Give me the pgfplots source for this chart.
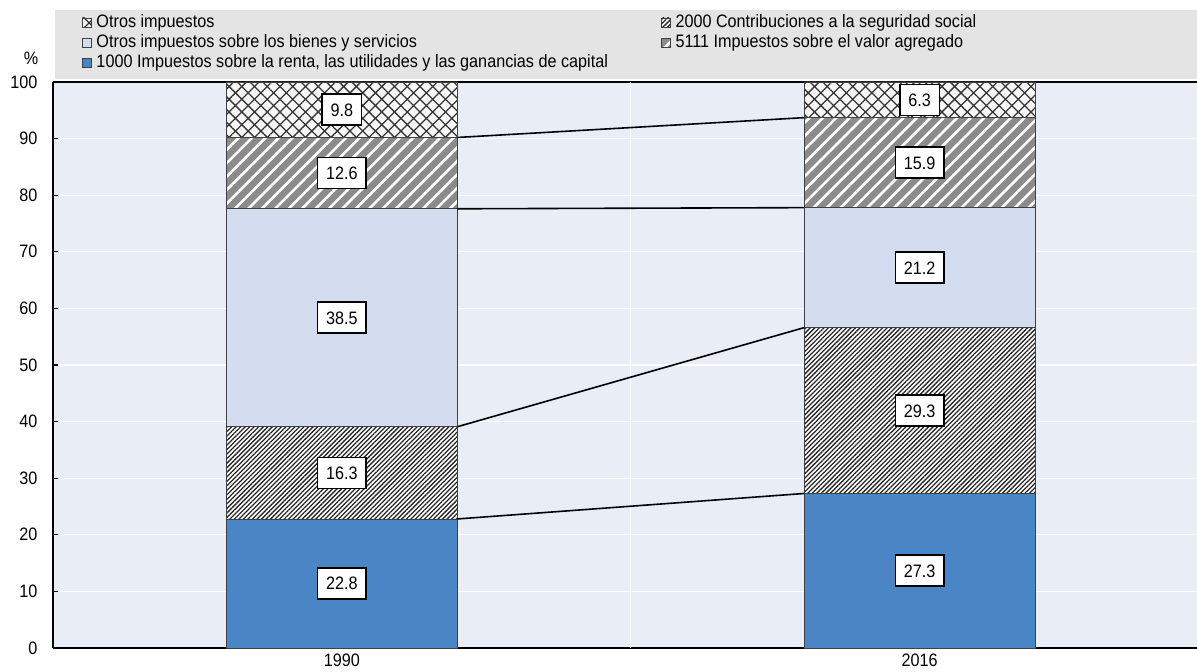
\documentclass[border=0pt]{standalone}
\usepackage{fontspec}
\setmainfont{Liberation Sans}[FakeStretch=0.9]
\usepackage{pgfplots}
\pgfplotsset{compat=1.18}
\usetikzlibrary{patterns.meta}
\definecolor{bgc}{RGB}{233,237,246}
\definecolor{blu}{RGB}{74,134,198}
\definecolor{lbl}{RGB}{212,221,239}
\definecolor{gry}{RGB}{139,139,139}
\definecolor{leg}{RGB}{228,228,228}
\tikzset{
 s1000/.style={fill=blu, draw=black!75, line width=0.8pt},
 s2000/.style={fill=white, draw=black!75, line width=0.8pt, postaction={pattern={Lines[angle=45,distance=3.2pt,line width=1.3pt]}, pattern color=black!85}},
 sbien/.style={fill=lbl, draw=black!75, line width=0.8pt},
 s5111/.style={fill=gry, draw=black!75, line width=0.8pt, postaction={pattern={Lines[angle=45,distance=9.5pt,line width=2.6pt]}, pattern color=white}},
 sotro/.style={fill=white!97!black, draw=black!75, line width=0.8pt, postaction={pattern={Lines[angle=45,distance=9pt,line width=1.3pt]}, pattern color=black!80}, postaction={pattern={Lines[angle=-45,distance=9pt,line width=1.3pt]}, pattern color=black!80}},
}
\begin{document}
\begin{tikzpicture}[font=\fontsize{18}{22}\selectfont]
\begin{axis}[
 at={(0,0)}, anchor=south west,
 width=1144pt, height=566pt, scale only axis,
 xmin=-0.5, xmax=1.48, ymin=0, ymax=100,
 ybar stacked, bar width=0.4,
 clip=false,
 axis background/.style={fill=bgc},
 axis x line*=bottom, axis y line*=left,
 axis line style={-, line width=1.6pt, black},
 ytick={0,10,...,100},
 ymajorgrids, grid style={white, line width=1.2pt},
 xtick={0,1}, xticklabels={1990,2016},
 xtick style={draw=none},
 xticklabel style={yshift=-2pt},
 tick align=inside,
 ytick style={black, line width=1.2pt}, major tick length=5pt,
 yticklabel style={xshift=-12pt},
 /pgf/number format/assume math mode=true,
 legend columns=2,
 legend cell align=left,
 legend style={at={(rel axis cs:0,1)}, anchor=north west, xshift=29pt, yshift=67pt, draw=none, fill=none, inner sep=0pt, outer sep=0pt, row sep=3pt,
   nodes={inner sep=0pt, text height=13pt, text depth=4pt, anchor=west},
   /tikz/every odd column/.append style={column sep=5pt},
   /tikz/every even column/.append style={column sep=53pt}},
]
\fill[leg] (rel axis cs:0,1) ++(2pt,3pt) rectangle ++(1142pt,69pt);
\draw[white, line width=1.2pt] (axis cs:0.5,0) -- (axis cs:0.5,100);
\draw[black, line width=1.2pt] (axis cs:0.5,0) -- ++(0pt,5pt);
\addplot[s1000, forget plot] coordinates {(0,22.8) (1,27.3)};
\addplot[s2000, forget plot] coordinates {(0,16.3) (1,29.3)};
\addplot[sbien, forget plot] coordinates {(0,38.5) (1,21.2)};
\addplot[s5111, forget plot] coordinates {(0,12.6) (1,15.9)};
\addplot[sotro, forget plot] coordinates {(0,9.8) (1,6.3)};
\draw[black, line width=1.6pt] (rel axis cs:0,1) -- (rel axis cs:1,1);
\node[xshift=-22pt, yshift=24pt] at (rel axis cs:0,1) {\%};
\addlegendimage{legend image code/.code={\draw[sotro, line width=0.5pt] (0pt,-3.5pt) rectangle (9pt,5.5pt);}}
\addlegendentry{Otros impuestos}
\addlegendimage{legend image code/.code={\draw[s2000, line width=0.5pt] (0pt,-3.5pt) rectangle (9pt,5.5pt);}}
\addlegendentry{2000 Contribuciones a la seguridad social}
\addlegendimage{legend image code/.code={\draw[sbien, line width=0.5pt] (0pt,-3.5pt) rectangle (9pt,5.5pt);}}
\addlegendentry{Otros impuestos sobre los bienes y servicios}
\addlegendimage{legend image code/.code={\draw[s5111, line width=0.5pt] (0pt,-3.5pt) rectangle (9pt,5.5pt);}}
\addlegendentry{5111 Impuestos sobre el valor agregado}
\addlegendimage{legend image code/.code={\draw[s1000, line width=0.5pt] (0pt,-3.5pt) rectangle (9pt,5.5pt);}}
\addlegendentry{1000 Impuestos sobre la renta, las utilidades y las ganancias de capital}
\end{axis}
\begin{axis}[
 at={(0,0)}, anchor=south west,
 width=1144pt, height=566pt, scale only axis,
 xmin=-0.5, xmax=1.48, ymin=0, ymax=100,
 hide axis, clip=false,
]
\addplot[black, line width=1.6pt, mark=none] coordinates {(0.2,22.8) (0.8,27.3)};
\addplot[black, line width=1.6pt, mark=none] coordinates {(0.2,39.1) (0.8,56.6)};
\addplot[black, line width=1.6pt, mark=none] coordinates {(0.2,77.6) (0.8,77.8)};
\addplot[black, line width=1.6pt, mark=none] coordinates {(0.2,90.2) (0.8,93.7)};
\addplot[draw=none, mark=none, nodes near coords, point meta=explicit symbolic,
  nodes near coords style={anchor=center, fill=white, draw=black, line width=1.5pt, inner xsep=8.5pt, inner ysep=9pt, text height=13pt, text depth=0pt}]
 coordinates {(0,11.4)[22.8] (0,30.95)[16.3] (0,58.35)[38.5] (0,83.9)[12.6] (0,95.1)[9.8]
              (1,13.65)[27.3] (1,41.95)[29.3] (1,67.2)[21.2] (1,85.75)[15.9] (1,96.85)[6.3]};
\end{axis}
\pgfresetboundingbox
\path (-53pt,-24pt) rectangle (1144pt,648pt);
\end{tikzpicture}
\end{document}
